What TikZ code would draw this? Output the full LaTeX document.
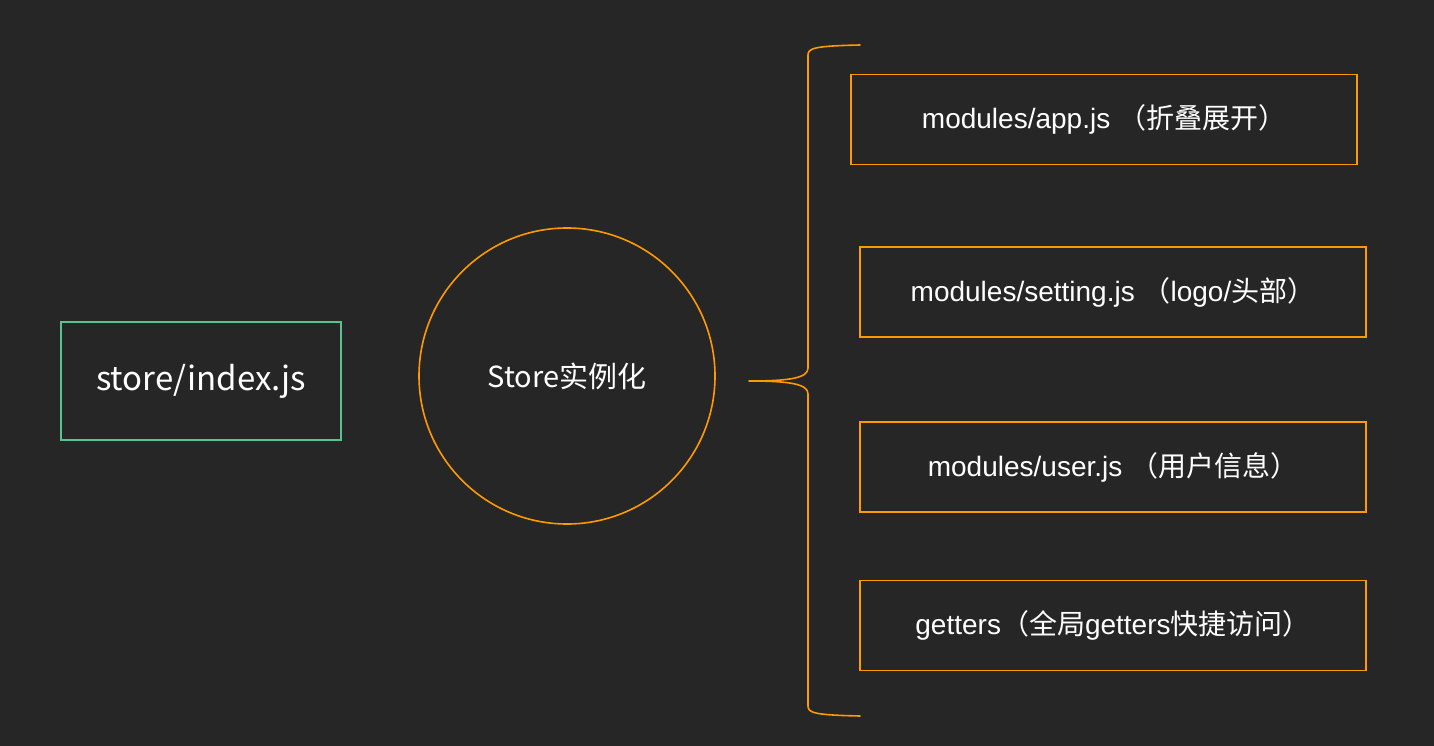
\documentclass[tikz,border=0pt]{standalone}
\usepackage{fontspec}
\usepackage{xcolor}
\usepackage{tikz}
\setmainfont{Liberation Sans}
\newfontfamily\cjk{Noto Sans CJK SC}
\definecolor{darkbg}{RGB}{38, 38, 38}
\definecolor{vuegreen}{RGB}{86, 196, 142}
\definecolor{niceorange}{RGB}{255, 153, 0}

\begin{document}
\begin{tikzpicture}[x = 1pt, y = -1pt, line width = 1.6pt, text = white,
	modbox/.style = {draw = niceorange, inner sep = 0pt, minimum width = 506pt, minimum height = 90pt, font = \fontsize{28}{32}\selectfont}]
	\fill[darkbg] (0,0) rectangle (1434,746);
	\node (idx) at (201,381) [draw = vuegreen, inner sep = 0pt, minimum width = 280pt, minimum height = 118pt, font = \cjk\fontsize{33}{38}\selectfont] {store/index.js};
	\node (inst) at (567,376) [circle, draw = niceorange, inner sep = 0pt, minimum size = 296pt, font = \cjk\fontsize{29}{33}\selectfont] {Store实例化};
	\node (app) at (1104,119.5) [modbox] {modules/app.js {\cjk （折叠展开）}};
	\node (setting) at (1113,292) [modbox] {modules/setting.js {\cjk （}logo/{\cjk 头部）}};
	\node (user) at (1113,467) [modbox] {modules/user.js {\cjk （用户信息）}};
	\node (getters) at (1113,625.5) [modbox] {getters{\cjk （全局}getters{\cjk 快捷访问）}};
	\coordinate (tip) at (749,381);
	\coordinate (top) at (860,45);
	\coordinate (bot) at (860,716);
	\draw[niceorange, line cap = round] (top) .. controls (815,46) and (808,48) .. (808,55)
		-- (808,368) .. controls (808,378) and (790,381) .. (tip)
		(tip) .. controls (790,381) and (808,384) .. (808,394)
		-- (808,706) .. controls (808,713) and (815,715) .. (bot);
\end{tikzpicture}
\end{document}
